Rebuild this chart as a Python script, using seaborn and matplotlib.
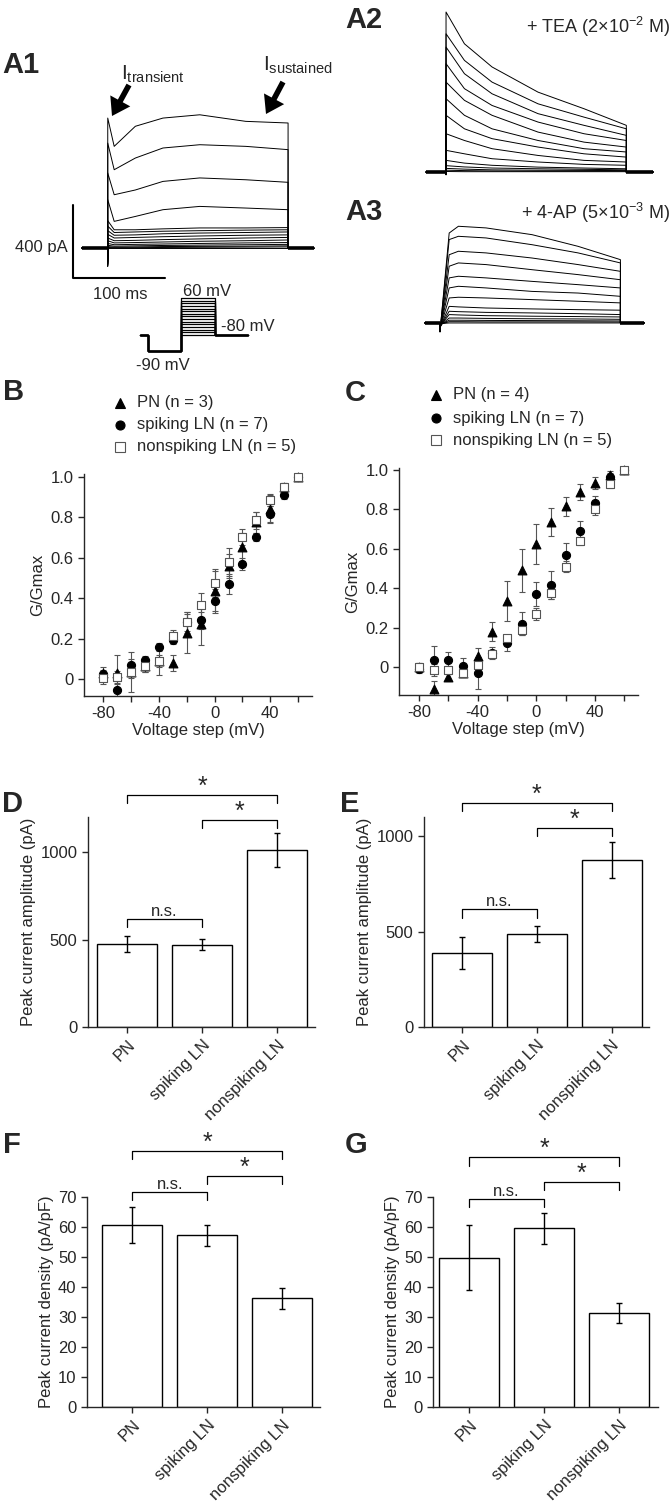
import numpy as np
import pandas as pd
import matplotlib
matplotlib.use('Agg')
import matplotlib.pyplot as plt
from matplotlib.lines import Line2D
from matplotlib.patches import FancyArrowPatch
import seaborn as sns

W, H = 672, 1501

# ---------------- data ----------------
# A1 control: current above baseline (pA) at times after step onset (ms), one row per step
a1_times = [0, 7, 30, 60, 100, 150, 196]
a1_levels = [
    [712, 557, 667, 712, 730, 694, 685],
    [575, 429, 493, 548, 566, 557, 539],
    [411, 292, 318, 365, 384, 374, 360],
    [265, 146, 173, 210, 228, 219, 210],
    [150, 100, 100, 105, 110, 110, 112],
    [120, 85, 88, 92, 95, 98, 100],
    [95, 70, 72, 78, 82, 85, 88],
    [75, 55, 58, 62, 66, 70, 72],
    [55, 40, 42, 46, 50, 55, 58],
    [40, 28, 30, 33, 37, 40, 44],
    [25, 18, 20, 22, 25, 28, 30],
    [15, 10, 12, 14, 16, 18, 20],
    [8, 5, 6, 8, 9, 10, 12],
    [3, 2, 2, 3, 4, 5, 6],
    [0, 0, 0, 0, 0, 0, 0],
]
a1_dip = -100

# A2 + TEA
a2_times = [0, 20, 50, 100, 150, 196]
a2_levels = [
    [877, 703, 576, 438, 347, 256],
    [758, 612, 493, 374, 301, 237],
    [685, 539, 429, 320, 256, 201],
    [594, 457, 365, 274, 210, 173],
    [493, 393, 311, 219, 164, 137],
    [402, 311, 237, 173, 128, 110],
    [311, 237, 183, 137, 100, 82],
    [210, 173, 128, 91, 64, 55],
    [119, 100, 73, 55, 42, 37],
    [64, 49, 37, 27, 22, 18],
    [35, 28, 22, 18, 15, 12],
    [20, 16, 12, 10, 9, 8],
    [10, 8, 6, 5, 5, 5],
    [3, 2, 2, 2, 2, 2],
]
a2_dip = -15

# A3 + 4-AP
a3_times = [10, 20, 50, 100, 150, 196]
a3_levels = [
    [493, 530, 521, 484, 420, 347],
    [457, 475, 466, 429, 384, 329],
    [374, 393, 384, 356, 320, 283],
    [311, 329, 320, 292, 265, 237],
    [247, 256, 247, 228, 210, 192],
    [192, 201, 192, 173, 164, 146],
    [137, 141, 137, 128, 119, 110],
    [91, 88, 82, 77, 73, 70],
    [64, 62, 58, 55, 51, 46],
    [46, 44, 40, 37, 35, 33],
    [27, 27, 25, 23, 22, 20],
    [15, 15, 14, 13, 12, 11],
    [7, 7, 6, 6, 6, 5],
    [0, 0, 0, 0, 0, 0],
]
a3_dip = -50

# voltage protocol (schematic)
proto_times = [0, 8, 41, 75, 108]
proto_hold, proto_pre = -80, -90
proto_steps = list(range(-80, 61, 10))

# B / C: normalised conductance
volt = [-80, -70, -60, -50, -40, -30, -20, -10, 0, 10, 20, 30, 40, 50, 60]
b_pn = [0.03, 0.03, 0.035, 0.065, 0.09, 0.08, 0.23, 0.27, 0.435, 0.56, 0.655, 0.775, 0.84, 0.95, 1.0]
b_pn_err = [0.03, 0.09, 0.10, 0.03, 0.07, 0.04, 0.10, 0.10, 0.10, 0.06, 0.07, 0.05, 0.07, 0.02, 0.0]
b_spk = [0.025, -0.055, 0.07, 0.095, 0.16, 0.195, 0.28, 0.29, 0.385, 0.47, 0.57, 0.705, 0.815, 0.91, 1.0]
b_spk_err = [0.02, 0.03, 0.03, 0.02, 0.02, 0.02, 0.04, 0.04, 0.06, 0.05, 0.03, 0.02, 0.04, 0.02, 0.0]
b_non = [0.005, 0.01, 0.035, 0.065, 0.09, 0.215, 0.28, 0.365, 0.475, 0.58, 0.705, 0.785, 0.885, 0.95, 1.0]
b_non_err = [0.03, 0.03, 0.03, 0.03, 0.03, 0.03, 0.05, 0.06, 0.07, 0.07, 0.04, 0.04, 0.03, 0.02, 0.0]

c_pn = [0.0, -0.11, -0.05, -0.03, 0.055, 0.18, 0.335, 0.49, 0.625, 0.735, 0.815, 0.89, 0.935, 0.975, 1.0]
c_pn_err = [0.02, 0.04, 0.02, 0.02, 0.04, 0.05, 0.10, 0.11, 0.10, 0.07, 0.05, 0.04, 0.03, 0.02, 0.0]
c_spk = [-0.01, 0.035, 0.035, 0.005, -0.03, 0.07, 0.12, 0.22, 0.37, 0.415, 0.57, 0.69, 0.83, 0.965, 1.0]
c_spk_err = [0.02, 0.07, 0.04, 0.04, 0.08, 0.03, 0.04, 0.06, 0.06, 0.07, 0.06, 0.05, 0.04, 0.02, 0.0]
c_non = [0.0, -0.015, -0.015, -0.03, 0.01, 0.065, 0.145, 0.19, 0.27, 0.375, 0.51, 0.64, 0.80, 0.93, 1.0]
c_non_err = [0.02, 0.03, 0.02, 0.02, 0.02, 0.02, 0.02, 0.03, 0.03, 0.03, 0.03, 0.02, 0.03, 0.02, 0.0]

# D-G: bar charts (mean +- SEM)
groups = ['PN', 'spiking LN', 'nonspiking LN']
d_mean, d_err = [474, 471, 1011], [45, 30, 95]
e_mean, e_err = [388, 488, 874], [85, 43, 95]
f_mean, f_err = [60.6, 57.3, 36.2], [6.0, 3.5, 3.4]
g_mean, g_err = [49.8, 59.6, 31.4], [10.8, 5.2, 3.4]

# ---------------- style ----------------
sns.set_style('ticks')
plt.rcParams['font.family'] = ['Liberation Sans', 'DejaVu Sans']
plt.rcParams['mathtext.fontset'] = 'custom'
plt.rcParams['mathtext.rm'] = 'Liberation Sans'
plt.rcParams['mathtext.it'] = 'Liberation Sans:italic'
plt.rcParams['axes.linewidth'] = 1.0
plt.rcParams['xtick.major.width'] = 1.0
plt.rcParams['ytick.major.width'] = 1.0
plt.rcParams['xtick.major.size'] = 4
plt.rcParams['ytick.major.size'] = 4
plt.rcParams['xtick.labelsize'] = 12
plt.rcParams['ytick.labelsize'] = 12
plt.rcParams['axes.labelsize'] = 12

fig = plt.figure(figsize=(W / 100, H / 100), dpi=100)


def px_box(l, t, r, b):
    return [l / W, 1 - b / H, (r - l) / W, (b - t) / H]


def ftext(x, y, s, **kw):
    fig.text(x / W, 1 - y / H, s, **kw)


def trace_frame(times, levels, pre, post, dip):
    rows = []
    for i, lv in enumerate(levels):
        t = [pre, 0, 0] + list(times) + [times[-1], post]
        y = [0, 0, dip * (1 - i / len(levels))] + list(lv) + [0, 0]
        for k in range(len(t)):
            rows.append((i, k, t[k], y[k]))
    return pd.DataFrame(rows, columns=['trace', 'k', 't', 'I'])


def draw_traces(ax, df, pre, post, end):
    sns.lineplot(data=df, x='t', y='I', units='trace', estimator=None, sort=False,
                 color='k', lw=0.7, ax=ax)
    # noisy holding current drawn as a thicker band
    ax.plot([pre, 0], [0, 0], color='k', lw=2.6, solid_capstyle='butt')
    ax.plot([end, post], [0, 0], color='k', lw=2.6, solid_capstyle='butt')
    ax.axis('off')


# ---------------- A1 ----------------
ax = fig.add_axes(px_box(60, 100, 320, 290))
draw_traces(ax, trace_frame(a1_times, a1_levels, -28, 224, a1_dip), -28, 224, a1_times[-1])
ax.set_xlim(-51.9, 230.7)
ax.set_ylim(-230, 811)
ax.plot([-37.8, -37.8, 62.2], [236, -164, -164], color='k', lw=1.5, clip_on=False)

ftext(68, 252, '400 pA', ha='right', va='baseline', fontsize=12)
ftext(93, 299, '100 ms', ha='left', va='baseline', fontsize=12)
ftext(121, 80, r'$\mathregular{I_{transient}}$', ha='left', va='baseline', fontsize=15)
ftext(263, 71, r'$\mathregular{I_{sustained}}$', ha='left', va='baseline', fontsize=15)
for tip, tail in [((112, 116), (129, 85)), ((266, 114), (283, 82))]:
    fig.add_artist(FancyArrowPatch(
        (tail[0] / W, 1 - tail[1] / H), (tip[0] / W, 1 - tip[1] / H),
        transform=fig.transFigure,
        arrowstyle='simple,head_length=0.62,head_width=0.82,tail_width=0.2',
        mutation_scale=20, shrinkA=0, shrinkB=0, lw=0, color='k'))

# protocol
axp = fig.add_axes(px_box(135, 290, 255, 360))


def fwd(v):
    v = np.asarray(v, dtype=float)
    return np.where(v >= -80, v, -80 + (v + 80) * 6)


def inv(f):
    f = np.asarray(f, dtype=float)
    return np.where(f >= -80, f, -80 + (f + 80) / 6)


axp.set_yscale('function', functions=(fwd, inv))
t0, t1, t2, t3, t4 = proto_times
for v in proto_steps:
    axp.plot([t0, t1, t1, t2, t2, t3, t3, t4],
             [proto_hold, proto_hold, proto_pre, proto_pre, v, v, proto_hold, proto_hold],
             color='k', lw=0.9)
axp.set_xlim(-5, 115)
axp.set_ylim(-95.8, 90.3)
axp.axis('off')
ftext(183, 296, '60 mV', ha='left', va='baseline', fontsize=12)
ftext(221, 331, '-80 mV', ha='left', va='baseline', fontsize=12)
ftext(136, 370, '-90 mV', ha='left', va='baseline', fontsize=12)

# ---------------- A2 / A3 ----------------
ax = fig.add_axes(px_box(420, 0, 660, 185))
draw_traces(ax, trace_frame(a2_times, a2_levels, -21.7, 225, a2_dip), -21.7, 225, a2_times[-1])
ax.set_xlim(-28.3, 232.6)
ax.set_ylim(-71, 943)
ftext(670, 33, r'+ TEA (2×10$^{\mathregular{-2}}$ M)', ha='right', va='baseline', fontsize=13)

ax = fig.add_axes(px_box(420, 200, 660, 335))
draw_traces(ax, trace_frame(a3_times, a3_levels, -16.3, 221.7, a3_dip), -16.3, 221.7, a3_times[-1])
ax.set_xlim(-21.7, 239)
ax.set_ylim(-66, 674)
ftext(670, 219, r'+ 4-AP (5×10$^{\mathregular{-3}}$ M)', ha='right', va='baseline', fontsize=13)

# ---------------- B / C ----------------
marker_styles = [('^', 'black', 'black', 40), ('o', 'black', 'black', 34), ('s', 'white', '#555555', 32)]


def draw_gv(ax, series, xlim, ylim):
    for (mean, err), (m, fc, ec, s) in zip(series, marker_styles):
        ax.errorbar(volt, mean, yerr=err, fmt='none', ecolor='#555555', elinewidth=0.8,
                    capsize=2, capthick=0.8, zorder=2)
        sns.scatterplot(x=volt, y=mean, marker=m, s=s, color=fc, edgecolor=ec,
                        linewidth=0.8, ax=ax, zorder=3, clip_on=False)
    ax.set_xlim(*xlim)
    ax.set_ylim(*ylim)
    ax.set_xticks(range(-80, 61, 20))
    ax.set_xticklabels(['-80', '', '-40', '', '0', '', '40', ''])
    ax.set_yticks([0, 0.2, 0.4, 0.6, 0.8, 1.0])
    ax.set_yticklabels(['0', '0.2', '0.4', '0.6', '0.8', '1.0'])
    ax.set_xlabel('Voltage step (mV)', labelpad=1)
    ax.set_ylabel('G/Gmax', labelpad=4)
    sns.despine(ax=ax)


axb = fig.add_axes(px_box(84, 474, 312, 696))
draw_gv(axb, [(b_pn, b_pn_err), (b_spk, b_spk_err), (b_non, b_non_err)], (-94, 70), (-0.084, 1.015))
axc = fig.add_axes(px_box(399, 468, 638, 695))
draw_gv(axc, [(c_pn, c_pn_err), (c_spk, c_spk_err), (c_non, c_non_err)], (-93.6, 69.3), (-0.142, 1.01))


def legend(x, ys, labels):
    for (m, fc, ec, s), y, lab in zip(marker_styles, ys, labels):
        fig.add_artist(Line2D([x / W], [1 - y / H], transform=fig.transFigure, marker=m,
                              markersize=6.5, markerfacecolor=fc, markeredgecolor=ec,
                              markeredgewidth=0.8, linestyle='none'))
        ftext(x + 17, y, lab, ha='left', va='center', fontsize=12)


legend(120, [403, 425, 447], ['PN (n = 3)', 'spiking LN (n = 7)', 'nonspiking LN (n = 5)'])
legend(436, [395, 418, 440], ['PN (n = 4)', 'spiking LN (n = 7)', 'nonspiking LN (n = 5)'])


# ---------------- D-G ----------------
def bracket(ax, x0, x1, y, leg, text, off):
    ax.plot([x0, x0, x1, x1], [y - leg, y, y, y - leg], color='k', lw=0.9, clip_on=False)
    fs = 18 if text == '*' else 12
    ax.annotate(text, xy=((x0 + x1) / 2, y), xytext=(0, off), textcoords='offset points',
                ha='center', va='bottom', fontsize=fs, annotation_clip=False)


def draw_bars(ax, mean, err, xlim, ylim, yticks, ylabel, brackets):
    df = pd.DataFrame({'group': groups, 'value': mean})
    sns.barplot(data=df, x='group', y='value', color='white', saturation=1, edgecolor='black',
                linewidth=1.0, width=0.8, errorbar=None, ax=ax)
    ax.errorbar(range(3), mean, yerr=err, fmt='none', ecolor='black', elinewidth=1.0,
                capsize=2.5, capthick=1.0)
    ax.set_xlim(*xlim)
    ax.set_ylim(*ylim)
    ax.set_yticks(yticks)
    ax.set_xticks(range(3))
    ax.set_xticklabels(groups, rotation=45, ha='right', rotation_mode='anchor')
    ax.set_xlabel('')
    ax.set_ylabel(ylabel, labelpad=3)
    sns.despine(ax=ax)
    for b in brackets:
        bracket(ax, *b)


axd = fig.add_axes(px_box(88, 817, 315, 1027))
draw_bars(axd, d_mean, d_err, (-0.52, 2.5), (0, 1200), [0, 500, 1000], 'Peak current amplitude (pA)',
          [(0, 2, 1326, 46, '*', -3), (1, 2, 1183, 46, '*', -3), (0, 1, 617, 46, 'n.s.', 0)])
axe = fig.add_axes(px_box(424, 817, 649, 1027))
draw_bars(axe, e_mean, e_err, (-0.51, 2.5), (0, 1100), [0, 500, 1000], 'Peak current amplitude (pA)',
          [(0, 2, 1173, 42, '*', -3), (1, 2, 1043, 42, '*', -3), (0, 1, 618, 47, 'n.s.', 0)])
axf = fig.add_axes(px_box(87, 1197, 320, 1407))
draw_bars(axf, f_mean, f_err, (-0.6, 2.5), (0, 70), range(0, 71, 10), 'Peak current density (pA/pF)',
          [(0, 2, 85.3, 2.7, '*', -3), (1, 2, 77.0, 2.7, '*', -3), (0, 1, 71.7, 2.7, 'n.s.', 0)])
axg = fig.add_axes(px_box(433, 1197, 658, 1407))
draw_bars(axg, g_mean, g_err, (-0.48, 2.52), (0, 70), range(0, 71, 10), 'Peak current density (pA/pF)',
          [(0, 2, 83.3, 3.0, '*', -3), (1, 2, 75.0, 2.7, '*', -3), (0, 1, 69.3, 2.7, 'n.s.', 0)])

# panel letters
for lab, x, y in [('A1', 2, 73), ('A2', 345, 28), ('A3', 345, 220), ('B', 3, 400), ('C', 345, 401),
                  ('D', 2, 812), ('E', 340, 812), ('F', 3, 1153), ('G', 345, 1153)]:
    ftext(x, y, lab, ha='left', va='baseline', fontsize=21, fontweight='bold')

fig.savefig('out.png', dpi=100)
